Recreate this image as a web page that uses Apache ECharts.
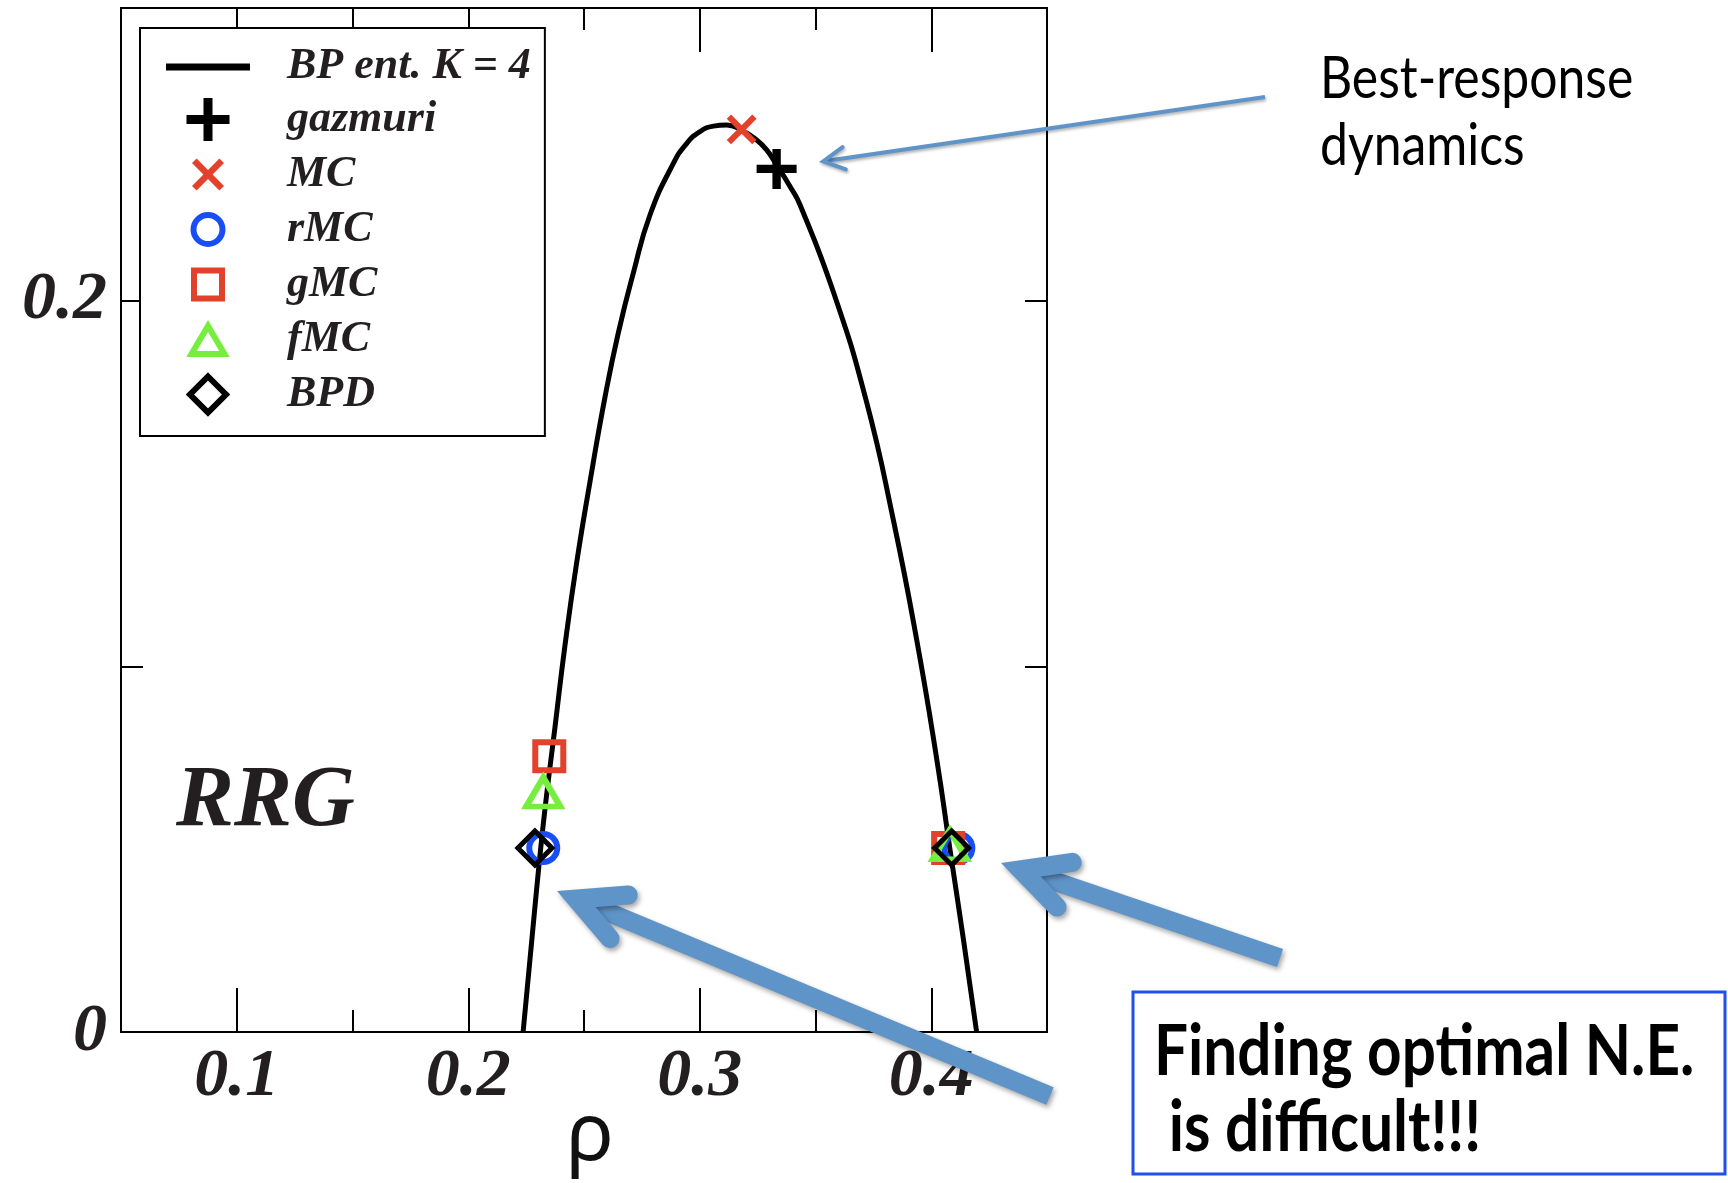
<!DOCTYPE html>
<html>
<head>
<meta charset="utf-8">
<title>BP entropy RRG</title>
<script src="https://cdn.jsdelivr.net/npm/echarts@6/dist/echarts.min.js"></script>
<style>
  html, body { margin: 0; padding: 0; background: #fff; }
  #chart { width: 1728px; height: 1183px; }
</style>
</head>
<body>
<div id="chart"></div>
<script>
// BP entropy curve (K = 4)
const curveRho = [0.2237, 0.2295, 0.2332, 0.2375, 0.2418, 0.2468, 0.2526, 0.2591, 0.2648, 0.2713,
  0.2785, 0.2886, 0.2944, 0.3001, 0.3059, 0.3116, 0.3181, 0.3246, 0.3289, 0.3332,
  0.3390, 0.3433, 0.3577, 0.3718, 0.3836, 0.3937, 0.4024, 0.4081, 0.4139, 0.4196];
const curveEnt = [0, 0.0388, 0.0613, 0.0835, 0.1058, 0.1282, 0.1505, 0.1737, 0.1911, 0.2075,
  0.2234, 0.2375, 0.2430, 0.2462, 0.2477, 0.2480, 0.2466, 0.2439, 0.2412, 0.2371,
  0.2312, 0.2262, 0.2024, 0.1729, 0.1401, 0.1073, 0.0745, 0.0499, 0.0253, 0];

// algorithm results [rho, entropy]
const gazmuriPts = [[0.3332, 0.2360]];
const mcPts = [[0.3181, 0.2468]];
const rmcPts = [[0.2324, 0.0503], [0.4117, 0.0503]];
const gmcPts = [[0.2350, 0.0754], [0.4073, 0.0503]];
const fmcPts = [[0.2324, 0.0656], [0.4080, 0.0512]];
const bpdPts = [[0.2288, 0.0503], [0.4088, 0.0503]];

// ticks
const xMajor = [0.1, 0.2, 0.3, 0.4];
const xMinor = [0.15, 0.25, 0.35];
const yTicks = [0, 0.1, 0.2];
const yLabels = [0, 0.2];

const RED = '#e2412b', BLUE = '#1a4ef5', GREEN = '#76ee3e', INK = '#231f20';
const ARROW = '#5f94c9';
const CLEAR = 'rgba(0,0,0,0)';

// symbols, drawn in a 43x43 box (the first two moves just pad the box)
const PLUS = 'path://M17,0H26V17H43V26H26V43H17V26H0V17H17Z';
const CROSS = 'path://M0,0M43,43M5.5,10.1L10.1,5.5L21.5,16.9L32.9,5.5L37.5,10.1L26.1,21.5L37.5,32.9L32.9,37.5L21.5,26.1L10.1,37.5L5.5,32.9L16.9,21.5Z';
const CIRC = 'path://M0,0M43,43M7,21.5A14.5,14.5,0,1,1,36,21.5A14.5,14.5,0,1,1,7,21.5Z';
const SQR = 'path://M0,0M43,43M7.5,7.5H35.5V35.5H7.5Z';
const TRI = 'path://M0,0M43,43M21.5,8L38,36H5Z';
const DIA = 'path://M0,0M43,43M21.5,3.5L39.5,21.5L21.5,39.5L3.5,21.5Z';
const BAR = 'path://M0,0H84V7H0Z';

const serifBold = { fontFamily: 'Liberation Serif', fontWeight: 'bold', fontStyle: 'italic', color: INK };
const tickLine = { color: '#000', width: 2 };

function xAxisOf(position, ticks, len, extra) {
  return Object.assign({
    type: 'value', position: position, min: 0.05, max: 0.45,
    axisLine: { show: false }, splitLine: { show: false },
    axisTick: { inside: true, length: len, customValues: ticks, lineStyle: tickLine },
    axisLabel: { show: false }
  }, extra || {});
}

// open arrow: shaft + chevron head
function arrow(tail, tip, width, headLen, headDeg, shadow) {
  const dx = tail[0] - tip[0], dy = tail[1] - tip[1];
  const len = Math.hypot(dx, dy);
  const ux = dx / len, uy = dy / len;
  const a = headDeg * Math.PI / 180;
  const back = (width / 2) / Math.sin(a);
  const vx = tip[0] + ux * back, vy = tip[1] + uy * back;
  const rot = (s) => [ux * Math.cos(s) - uy * Math.sin(s), ux * Math.sin(s) + uy * Math.cos(s)];
  const r1 = rot(a), r2 = rot(-a);
  const style = Object.assign({ stroke: ARROW, lineWidth: width, fill: null, lineJoin: 'miter', lineCap: 'round' }, shadow);
  return [
    { type: 'polyline', z: 20, shape: { points: [tail, [vx + ux * 4, vy + uy * 4]] }, style: Object.assign({}, style, { lineCap: 'butt' }) },
    { type: 'polyline', z: 20, shape: { points: [[vx + r1[0] * headLen, vy + r1[1] * headLen], [vx, vy], [vx + r2[0] * headLen, vy + r2[1] * headLen]] }, style: style }
  ];
}

const bigShadow = { shadowBlur: 5, shadowColor: 'rgba(0,0,0,0.35)', shadowOffsetX: 2, shadowOffsetY: 3 };
const thinShadow = { shadowBlur: 3, shadowColor: 'rgba(0,0,0,0.3)', shadowOffsetX: 1, shadowOffsetY: 2 };

const chart = echarts.init(document.getElementById('chart'));

const option = {
  animation: false,
  backgroundColor: '#fff',
  grid: {
    left: 121, right: 681, top: 8, bottom: 151,
    outerBoundsMode: 'none', containLabel: false,
    show: true, borderColor: '#000', borderWidth: 2, backgroundColor: 'transparent'
  },
  xAxis: [
    xAxisOf('bottom', xMajor, 44, {
      axisLabel: { show: true, customValues: xMajor, formatter: (v) => v.toFixed(1), margin: 11, fontSize: 68, ...serifBold },
      name: 'ρ', nameLocation: 'middle', nameGap: 65, nameMoveOverlap: false,
      nameTextStyle: { fontFamily: 'Noto Sans', fontSize: 80, color: '#111', padding: [0, 0, 0, 12] }
    }),
    xAxisOf('bottom', xMinor, 22),
    xAxisOf('top', xMajor, 44),
    xAxisOf('top', xMinor, 22)
  ],
  yAxis: [
    {
      type: 'value', position: 'left', min: 0, max: 0.28,
      axisLine: { show: false }, splitLine: { show: false },
      axisTick: { inside: true, length: 22, customValues: yTicks, lineStyle: tickLine },
      axisLabel: { customValues: yLabels, formatter: (v) => (v === 0 ? '0' : v.toFixed(1)), margin: 14, fontSize: 68, ...serifBold }
    },
    {
      type: 'value', position: 'right', min: 0, max: 0.28,
      axisLine: { show: false }, splitLine: { show: false },
      axisTick: { inside: true, length: 22, customValues: [0.1, 0.2], lineStyle: tickLine },
      axisLabel: { show: false }
    }
  ],
  legend: {
    orient: 'vertical', left: 140, top: 28,
    padding: [17, 14, 17, 23],
    itemWidth: 84, itemHeight: 43, itemGap: 6,
    borderColor: '#000', borderWidth: 2, backgroundColor: '#fff',
    selectedMode: false,
    textStyle: { fontSize: 44, padding: [0, 0, 0, 32], ...serifBold },
    data: [
      { name: 'BP ent. K = 4', icon: BAR, itemStyle: { color: '#000', borderColor: CLEAR, borderWidth: 6 } },
      { name: 'gazmuri', icon: PLUS, itemStyle: { color: '#000', borderColor: CLEAR, borderWidth: 6 } },
      { name: 'MC', icon: CROSS, itemStyle: { color: RED, borderColor: CLEAR, borderWidth: 6 } },
      { name: 'rMC', icon: CIRC, itemStyle: { color: 'none', borderColor: BLUE, borderWidth: 6 } },
      { name: 'gMC', icon: SQR, itemStyle: { color: 'none', borderColor: RED, borderWidth: 6 } },
      { name: 'fMC', icon: TRI, itemStyle: { color: 'none', borderColor: GREEN, borderWidth: 6 } },
      { name: 'BPD', icon: DIA, itemStyle: { color: 'none', borderColor: '#000', borderWidth: 6 } }
    ]
  },
  series: [
    {
      name: 'BP ent. K = 4', type: 'line', z: 2,
      data: curveRho.map((x, i) => [x, curveEnt[i]]),
      smooth: 0.5, showSymbol: false,
      lineStyle: { color: '#000', width: 5 }, itemStyle: { color: '#000' }
    },
    { name: 'gazmuri', type: 'scatter', z: 3, data: gazmuriPts, symbol: PLUS, symbolSize: 40, itemStyle: { color: '#000', opacity: 1 } },
    { name: 'MC', type: 'scatter', z: 3, data: mcPts, symbol: CROSS, symbolSize: 40, itemStyle: { color: RED, opacity: 1 } },
    { name: 'rMC', type: 'scatter', z: 3, data: rmcPts, symbol: 'circle', symbolSize: 28, itemStyle: { color: CLEAR, borderColor: BLUE, borderWidth: 6, opacity: 1 } },
    { name: 'gMC', type: 'scatter', z: 3, data: gmcPts, symbol: 'rect', symbolSize: 28, itemStyle: { color: CLEAR, borderColor: RED, borderWidth: 6, opacity: 1 } },
    { name: 'fMC', type: 'scatter', z: 3, data: fmcPts, symbol: 'triangle', symbolSize: [34, 29], itemStyle: { color: CLEAR, borderColor: GREEN, borderWidth: 6, opacity: 1 } },
    { name: 'BPD', type: 'scatter', z: 3, data: bpdPts, symbol: 'diamond', symbolSize: 34, itemStyle: { color: CLEAR, borderColor: '#000', borderWidth: 5, opacity: 1 } }
  ],
  graphic: [
    {
      type: 'text', x: 176, y: 803, z: 10,
      style: { text: 'RRG', fontFamily: 'Liberation Serif', fontWeight: 'bold', fontStyle: 'italic', fontSize: 87, fill: INK, align: 'left', verticalAlign: 'middle' }
    },
    {
      type: 'text', x: 1320, y: 79, z: 10, scaleX: 0.86,
      style: { text: 'Best-response', fontFamily: 'Lato', fontSize: 58, fill: '#000', align: 'left', verticalAlign: 'middle' }
    },
    {
      type: 'text', x: 1320, y: 146, z: 10, scaleX: 0.86,
      style: { text: 'dynamics', fontFamily: 'Lato', fontSize: 58, fill: '#000', align: 'left', verticalAlign: 'middle' }
    },
    {
      type: 'rect', z: 10,
      shape: { x: 1133, y: 992, width: 592, height: 182 },
      style: { fill: '#fff', stroke: '#1f4ff0', lineWidth: 3 }
    },
    {
      type: 'text', x: 1154, y: 1052, z: 11, scaleX: 0.86,
      style: { text: 'Finding optimal N.E.', fontFamily: 'Lato', fontWeight: 'bold', fontSize: 70, fill: '#000', align: 'left', verticalAlign: 'middle' }
    },
    {
      type: 'text', x: 1154, y: 1128, z: 11, scaleX: 0.86,
      style: { text: ' is difficult!!!', fontFamily: 'Lato', fontWeight: 'bold', fontSize: 70, fill: '#000', align: 'left', verticalAlign: 'middle' }
    }
  ]
    .concat(arrow([1265, 97], [819, 162], 4, 24, 28, thinShadow))
    .concat(arrow([1280, 958], [1001, 863], 19, 52, 27, bigShadow))
    .concat(arrow([1050, 1096], [557, 891], 19, 52, 27, bigShadow))
};

chart.setOption(option);
</script>
</body>
</html>
